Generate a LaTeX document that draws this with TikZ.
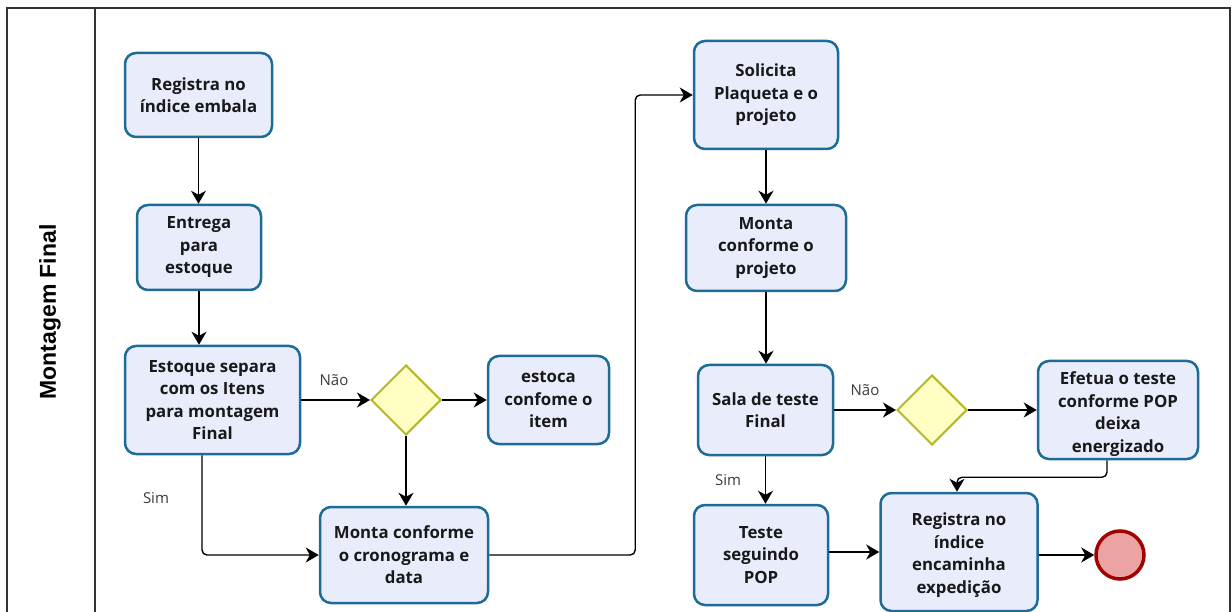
\documentclass[tikz,border=0pt]{standalone}
\usepackage{fontspec}
\setmainfont{Open Sans}
\newfontfamily\lanefont{Liberation Sans}
\usetikzlibrary{shapes.geometric,arrows.meta}
\definecolor{taskblue}{HTML}{1D6B96}
\definecolor{taskfill}{HTML}{E9EDFB}
\definecolor{gateline}{HTML}{B6B62C}
\definecolor{gatefill}{HTML}{FFFFC4}
\definecolor{endline}{HTML}{A30000}
\definecolor{endfill}{HTML}{EBA3A3}
\definecolor{frame}{HTML}{333333}
\definecolor{lbl}{HTML}{3A3A3A}
\tikzset{
  task/.style={draw=taskblue, fill=taskfill, line width=2.5pt, rounded corners=11pt,
    align=center, inner sep=0pt, font=\bfseries\fontsize{16.8}{22.5}\selectfont, text=black!90},
  tasktext/.style={align=center, inner sep=0pt, font=\bfseries\fontsize{16.8}{22.5}\selectfont, text=black!90},
  gate/.style={diamond, draw=gateline, fill=gatefill, line width=2pt, aspect=1,
    minimum width=70pt, minimum height=70pt, inner sep=0pt},
  endev/.style={circle, draw=endline, fill=endfill, line width=3.5pt, minimum size=48pt, inner sep=0pt},
  flow/.style={draw=black, line width=1.4pt, rounded corners=5pt,
    -{Stealth[length=13pt,width=15pt,inset=4pt]}},
  cond/.style={font=\fontsize{15}{18}\selectfont, text=lbl, inner sep=0pt},
}
\begin{document}
\begin{tikzpicture}[x=1pt,y=-1pt]
\useasboundingbox (0,0) rectangle (1232,612);
% pool frame
\draw[frame, line width=1.8pt] (7,620) -- (7,8) -- (1230,8) -- (1230,620);
\draw[frame, line width=1.5pt] (95,8) -- (95,620);
\node[rotate=90, font=\lanefont\bfseries\fontsize{23}{26}\selectfont] (lane) at (50,312) {Montagem Final};

% tasks
\node[task, minimum width=147pt, minimum height=84pt] (b1) at (198.5,95) {Registra no\\índice embala};
\node[task, minimum width=124pt, minimum height=85pt] (b2) at (199,247.5) {Entrega\\para\\estoque};
\node[task, minimum width=175pt, minimum height=108pt] (b3) at (212.5,400) {Estoque separa\\com os Itens\\para montagem\\Final};
\node[gate] (d1) at (406,400) {};
\node[task, minimum width=121pt, minimum height=88pt] (b4) at (548.5,400) {estoca\\confome o\\item};
\node[task, minimum width=168pt, minimum height=96pt] (b5) at (404,555) {Monta conforme\\o cronograma e\\data};
\node[task, minimum width=144pt, minimum height=108pt] (b6) at (766,95) {Solicita\\Plaqueta e o\\projeto};
\node[task, minimum width=160pt, minimum height=86pt] (b7) at (766,248) {Monta\\conforme o\\projeto};
\node[task, minimum width=135pt, minimum height=90pt] (b8) at (765.5,410) {Sala de teste\\Final};
\node[gate] (d2) at (932,410) {};
\node[task, minimum width=160pt, minimum height=98pt] (b9) at (1118,410) {};
\node[tasktext] (b9t) at (1118,414) {Efetua o teste\\conforme POP\\deixa\\energizado};
\node[task, minimum width=134pt, minimum height=100pt] (b10) at (761,555) {Teste\\seguindo\\POP};
\node[task, minimum width=157pt, minimum height=118pt] (b11) at (959,552) {};
\node[tasktext] (b11t) at (959,555) {Registra no\\índice\\encaminha\\expedição};
\node[endev] (e) at (1120,555) {};

% labels
\node[cond] (n1) at (334,380) {Não};
\node[cond] (s1) at (156,498) {Sim};
\node[cond] (n2) at (865,390) {Não};
\node[cond] (s2) at (728,480) {Sim};

% flows
\draw[flow] (b1.south) -- (b1.south |- b2.north);
\draw[flow] (b2.south) -- (b2.south |- b3.north);
\draw[flow] (b3.east) -- (d1.west);
\draw[flow] (d1.east) -- (b4.west);
\draw[flow] (d1.south) -- (d1.south |- b5.north);
\draw[flow] ([xshift=-10.5pt]b3.south) |- (b5.west);
\draw[flow] (b5.east) -- ++(146,0) |- (b6.west);
\draw[flow] (b6.south) -- (b6.south |- b7.north);
\draw[flow] (b7.south) -- (b7.south |- b8.north);
\draw[flow] (b8.east) -- (d2.west);
\draw[flow] (d2.east) -- (b9.west);
\draw[flow] (b8.south) -- (b8.south |- b10.north);
\draw[flow] ([xshift=-11pt]b9.south) -- ++(0,17) -| ([xshift=-2pt]b11.north);
\draw[flow] (b10.east |- b11.west) -- (b11.west);
\draw[flow] (b11.east |- e.west) -- (e.west);
\end{tikzpicture}
\end{document}
